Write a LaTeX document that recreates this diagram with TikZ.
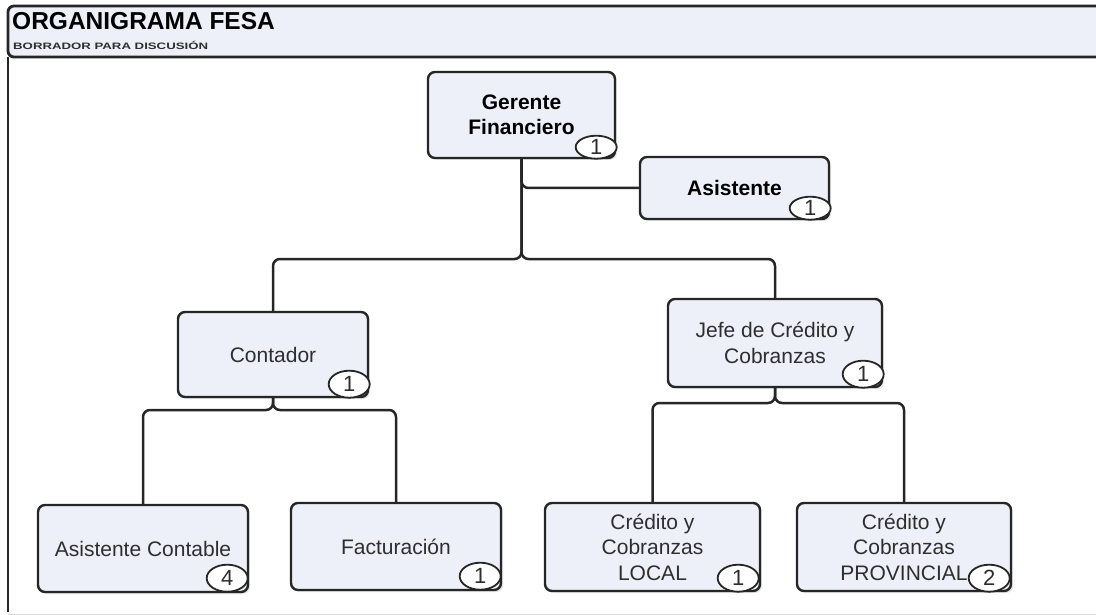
\documentclass[tikz,border=0pt]{standalone}
\usepackage{fontspec}
\setmainfont{Liberation Sans}
\usepackage{tikz}
\usetikzlibrary{shapes.geometric,shadows}
\definecolor{boxfill}{HTML}{EDF0F8}
\definecolor{edge}{HTML}{262626}
\definecolor{txt}{HTML}{2E2E2E}
\begin{document}
\begin{tikzpicture}[x=1pt,y=-1pt,
    box/.style={draw=edge,line width=2.4pt,fill=boxfill,rounded corners=7pt,
        align=center,text=txt,inner sep=2pt,
        font=\fontsize{21}{25.5}\selectfont,
        drop shadow={opacity=0.2,shadow xshift=2pt,shadow yshift=-2pt}},
    bbox/.style={box,font=\fontsize{21}{25}\selectfont\bfseries,text=black},
    badge/.style={draw=edge,line width=1.8pt,fill=white,ellipse,inner sep=0pt,
        minimum width=41pt,minimum height=27pt,text=txt,
        font=\fontsize{22}{24}\selectfont},
    link/.style={draw=edge,line width=2.5pt,rounded corners=7pt}]
    \useasboundingbox (0,0) rectangle (1096,615);
    \draw[line width=2.8pt,draw=edge,fill=boxfill,rounded corners=6pt]
        (1100,57) -- (8,57) -- (8,6) -- (1100,6);
    \draw[line width=2.8pt,draw=edge] (8,57) -- (8,612);
    \draw[line width=1pt,draw=black!15] (8,614) -- (1096,614);
    \node[anchor=base west,inner sep=0pt,font=\fontsize{24.5}{26}\selectfont\bfseries] (title) at (12,30) {ORGANIGRAMA FESA};
    \node[anchor=base west,inner sep=0pt,text=txt,font=\fontsize{9.3}{10}\selectfont\bfseries] (sub) at (13,50) {\scalebox{1.42}[1]{BORRADOR PARA DISCUSIÓN}};

    \node[bbox,minimum width=187pt,minimum height=86pt] (ger) at (521.5,115) {Gerente\\Financiero};
    \node[bbox,minimum width=189pt,minimum height=62pt] (asis) at (734.5,188) {Asistente};
    \node[box,minimum width=190pt,minimum height=85pt] (cont) at (273,354.5) {Contador};
    \node[box,minimum width=214pt,minimum height=88pt] (jefe) at (775,343) {Jefe de Crédito y\\Cobranzas};
    \node[box,minimum width=210pt,minimum height=87pt] (asc) at (143,548.5) {Asistente Contable};
    \node[box,minimum width=210pt,minimum height=87pt] (fac) at (396,546.5) {Facturación};
    \node[box,minimum width=215pt,minimum height=88pt] (loc) at (652.5,547) {Crédito y\\Cobranzas\\LOCAL};
    \node[box,minimum width=214pt,minimum height=88pt] (prov) at (904,547) {Crédito y\\Cobranzas\\PROVINCIAL};

    \node[badge,minimum height=23pt] (nger) at ([xshift=-20pt,yshift=12pt]ger.south east) {1};
    \node[badge,minimum height=23pt] (nasis) at ([xshift=-20pt,yshift=12pt]asis.south east) {1};
    \node[badge] (ncont) at ([xshift=-20pt,yshift=14pt]cont.south east) {1};
    \node[badge] (njefe) at ([xshift=-20pt,yshift=14pt]jefe.south east) {1};
    \node[badge] (nasc) at ([xshift=-22pt,yshift=15pt]asc.south east) {4};
    \node[badge] (nfac) at ([xshift=-22pt,yshift=15pt]fac.south east) {1};
    \node[badge] (nloc) at ([xshift=-23pt,yshift=14pt]loc.south east) {1};
    \node[badge] (nprov) at ([xshift=-23pt,yshift=14pt]prov.south east) {2};

    \coordinate (bus1) at (521.5,259);
    \coordinate (bus2) at (273,410);
    \coordinate (bus3) at (775,403);
    \draw[link] (ger.south) |- (asis.west);
    \draw[link] (ger.south) -- (bus1) -| (cont.north);
    \draw[link] (ger.south) -- (bus1) -| (jefe.north);
    \draw[link] (cont.south) -- (bus2) -| (asc.north);
    \draw[link] (cont.south) -- (bus2) -| (fac.north);
    \draw[link] (jefe.south) -- (bus3) -| (loc.north);
    \draw[link] (jefe.south) -- (bus3) -| (prov.north);
\end{tikzpicture}
\end{document}
